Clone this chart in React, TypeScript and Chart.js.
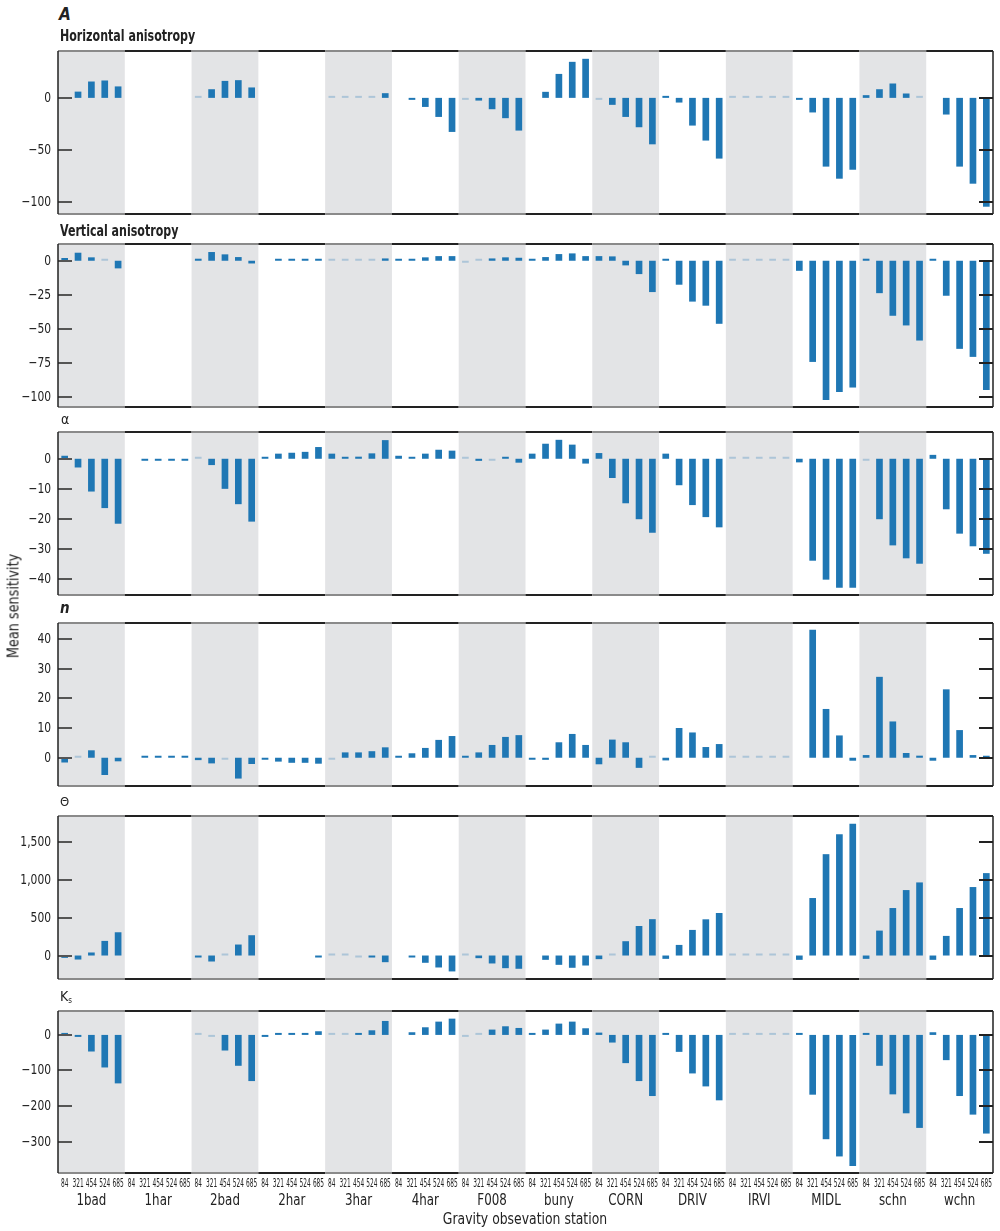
import React, { useEffect, useRef } from "react";
import { Chart, registerables } from "chart.js";
Chart.register(...registerables);

const FONT = "'Liberation Sans Narrow', 'DejaVu Sans Condensed', 'Arial Narrow', 'Liberation Sans', sans-serif";

const stations = ["1bad", "1har", "2bad", "2har", "3har", "4har", "F008", "buny", "CORN", "DRIV", "IRVI", "MIDL", "schn", "wchn"];
const days = ["84", "321", "454", "524", "685"];

// values per station, 5 days each (84, 321, 454, 524, 685); null = no bar
const horizontalAnisotropy = [
  null, 6, 15.7, 16.7, 11, // 1bad
  null, null, null, null, null, // 1har
  0.5, 8.3, 16.3, 17, 10, // 2bad
  null, null, null, null, null, // 2har
  0.4, 0.4, 0.6, 1.2, 4.5, // 3har
  null, -1.6, -8.7, -18.3, -32.7, // 4har
  -0.4, -2.6, -10.9, -19.5, -31.4, // F008
  null, 5.8, 23, 34.6, 37.5, // buny
  -0.4, -6.7, -18.3, -28.2, -44.6, // CORN
  0.6, -4.5, -26.6, -41, -58.3, // DRIV
  0.3, 0.3, 0.3, 0.3, 0.3, // IRVI
  -1.6, -14, -66, -77.6, -69, // MIDL
  2.6, 8.3, 13.8, 4.2, 0.6, // schn
  null, -16, -66, -82.4, -104.5, // wchn
];

const verticalAnisotropy = [
  2, 5.9, 2.5, 0.3, -5.6,
  null, null, null, null, null,
  1.5, 6.4, 4.7, 2.7, -2,
  null, 0.3, 0.3, 0.3, 1,
  0.5, 0.3, 0.3, 0.5, 1.7,
  0.3, 0.3, 2.5, 3.4, 3.4,
  -0.3, 0.3, 1.7, 2.5, 2.2,
  0.5, 2.7, 4.9, 5.4, 3.4,
  3.4, 3.2, -3.4, -9.8, -23,
  1, -17.6, -30, -33, -46.3,
  0.3, 0.3, 0.3, 0.3, 0.3,
  -7.4, -74.3, -102.2, -96.3, -93.1,
  1.5, -23.8, -40.4, -47.5, -58.6,
  1.2, -25.7, -64.7, -70.6, -94.9,
];

const alphaValues = [
  1, -2.9, -10.9, -16.4, -21.6,
  null, -0.2, -0.2, -0.2, -0.2,
  0.2, -2.1, -10, -15.1, -20.9,
  0.6, 1.7, 2, 2.3, 3.9,
  1.7, 0.6, 0.7, 1.8, 6.2,
  1, 0.6, 1.7, 3, 2.7,
  0.2, -0.7, -0.2, 0.6, -1.3,
  1.7, 5, 6.3, 4.7, -1.6,
  1.9, -6.4, -14.8, -20.1, -24.6,
  1.7, -8.8, -15.4, -19.4, -22.8,
  0.2, 0.2, 0.2, 0.2, 0.2,
  -1.2, -33.9, -40.2, -42.9, -42.9,
  -0.3, -20.1, -28.8, -33.1, -34.9,
  1.3, -16.8, -24.9, -29.1, -31.6,
];

const nValues = [
  -1.6, 0.3, 2.5, -5.8, -1.2,
  null, 0.2, 0.2, 0.2, 0.2,
  -0.8, -1.9, -0.3, -7, -2.1,
  -0.2, -1.3, -1.7, -1.7, -2,
  -0.2, 1.8, 1.8, 2.2, 3.5,
  0.2, 1.5, 3.3, 6, 7.3,
  0.6, 1.8, 4.3, 7, 7.6,
  -0.2, -0.7, 5.2, 8, 4.3,
  -2.2, 6.1, 5.2, -3.4, 0.2,
  -0.9, 10, 8.5, 3.6, 4.6,
  0.1, 0.1, 0.1, 0.1, 0.1,
  null, 43, 16.4, 7.5, -1,
  0.9, 27.2, 12.2, 1.6, 0.7,
  -1, 23, 9.3, 0.9, 0.6,
];

const thetaValues = [
  -31, -53, 40, 193, 307,
  null, null, null, null, null,
  -26, -79, 9, 145, 268,
  null, null, null, null, -5,
  2, 2, -5, -26, -88,
  null, -26, -96, -158, -210,
  2, -35, -105, -167, -175,
  null, -57, -123, -162, -132,
  -48, 18, 189, 390, 480,
  -44, 140, 338, 478, 561,
  2, 2, 2, 2, 2,
  -57, 759, 1338, 1601, 1741,
  -44, 329, 627, 864, 965,
  -57, 259, 627, 904, 1088,
];

const ksValues = [
  4.7, -5.6, -46.7, -91.6, -136.4,
  null, null, null, null, null,
  2.8, -1.9, -43.9, -86.9, -129.9,
  -0.5, 0.5, 1, 4.7, 10.3,
  0.5, 0.5, 5.6, 13, 39.3,
  null, 7.5, 21.5, 37.4, 45.8,
  -1, 3.7, 15, 24.3, 19.6,
  1, 15, 31.8, 37.4, 18.7,
  6.5, -21.5, -79.4, -129.9, -172,
  4.7, -47.7, -108.4, -144.9, -184.1,
  0.5, 0.5, 0.5, 0.5, 0.5,
  1.9, -168.2, -293.5, -342, -369.2,
  4.7, -86.9, -167.3, -220.6, -261.7,
  7.5, -71, -172, -224.3, -277.6,
];

const hTicks = [0, -50, -100];
const vTicks = [0, -25, -50, -75, -100];
const alphaTicks = [0, -10, -20, -30, -40];
const nTicks = [0, 10, 20, 30, 40];
const thetaTicks = [0, 500, 1000, 1500];
const ksTicks = [0, -100, -200, -300];

const categories = stations.flatMap(() => days);

type PanelDef = {
  values: (number | null)[];
  ticks: number[];
  min: number;
  max: number;
  top: number;
  bottom: number;
  showX: boolean;
};

const panels: PanelDef[] = [
  { values: horizontalAnisotropy, ticks: hTicks, min: -111.5, max: 45, top: 51, bottom: 214, showX: false },
  { values: verticalAnisotropy, ticks: vTicks, min: -107.4, max: 12.3, top: 244, bottom: 407, showX: false },
  { values: alphaValues, ticks: alphaTicks, min: -45.3, max: 8.9, top: 432, bottom: 595, showX: false },
  { values: nValues, ticks: nTicks, min: -9.5, max: 45.3, top: 623, bottom: 786, showX: false },
  { values: thetaValues, ticks: thetaTicks, min: -310, max: 1842, top: 816, bottom: 979, showX: false },
  { values: ksValues, ticks: ksTicks, min: -388.6, max: 67.3, top: 1011, bottom: 1173, showX: true },
];

const PAD_T = 12;
const PAD_B = 12;
const X_H = 38;

function canvasBox(p: PanelDef) {
  const top = p.top - PAD_T;
  const height = p.bottom - p.top + PAD_T + (p.showX ? X_H + 4 : PAD_B);
  return { top, height };
}

const SHADE = "#e3e4e6";
const BAR = "#1f77b4";
const BAR_PALE = "rgba(31,119,180,0.28)";
const TEXT = "#222";

function fmt(v: number) {
  const s = Math.abs(v).toLocaleString("en-US");
  return v < 0 ? "\u2212" + s : s;
}

function drawText(ctx: CanvasRenderingContext2D, text: string, x: number, y: number, align: CanvasTextAlign, sx: number, font: string) {
  ctx.save();
  ctx.translate(x, y);
  ctx.scale(sx, 1);
  ctx.font = font;
  ctx.fillStyle = TEXT;
  ctx.textAlign = align;
  ctx.textBaseline = "middle";
  ctx.fillText(text, 0, 0);
  ctx.restore();
}

const decoPlugin = {
  id: "deco",
  beforeDatasetsDraw(chart: any) {
    const { ctx, chartArea: a } = chart;
    const gw = (a.right - a.left) / stations.length;
    ctx.save();
    ctx.fillStyle = SHADE;
    for (let g = 0; g < stations.length; g += 2) {
      ctx.fillRect(a.left + g * gw, a.top, gw, a.bottom - a.top);
    }
    ctx.restore();
  },
  afterDatasetsDraw(chart: any, _args: any, opts: any) {
    const { ctx, chartArea: a } = chart;
    const gw = (a.right - a.left) / stations.length;
    const y = chart.scales.y;
    ctx.save();
    // tick marks, inward on both sides, with labels on the left
    ctx.lineWidth = 2;
    for (const t of y.ticks) {
      const py = Math.round(y.getPixelForValue(t.value));
      ctx.strokeStyle = "#555";
      ctx.beginPath();
      ctx.moveTo(a.left, py);
      ctx.lineTo(a.left + 14, py);
      ctx.stroke();
      ctx.strokeStyle = "#222";
      ctx.beginPath();
      ctx.moveTo(a.right - 14, py);
      ctx.lineTo(a.right, py);
      ctx.stroke();
      drawText(ctx, fmt(t.value), a.left - 7, py + 0.5, "right", 0.85, `14px ${FONT}`);
    }
    // frame
    ctx.lineWidth = 2;
    for (let g = 0; g < stations.length; g++) {
      ctx.strokeStyle = g % 2 === 0 ? "#8a8a8a" : "#222";
      const x0 = a.left + g * gw;
      ctx.beginPath();
      ctx.moveTo(x0, a.top);
      ctx.lineTo(x0 + gw, a.top);
      ctx.moveTo(x0, a.bottom);
      ctx.lineTo(x0 + gw, a.bottom);
      ctx.stroke();
    }
    ctx.strokeStyle = "#222";
    ctx.lineWidth = 1.5;
    ctx.beginPath();
    ctx.moveTo(a.left, a.top);
    ctx.lineTo(a.left, a.bottom);
    ctx.moveTo(a.right, a.top);
    ctx.lineTo(a.right, a.bottom);
    ctx.stroke();
    ctx.restore();

    if (opts && opts.showX) {
      const xs = chart.scales.x;
      categories.forEach((lab, i) => {
        drawText(ctx, lab, xs.getPixelForValue(i), a.bottom + 10.5, "center", 0.5, `13px ${FONT}`);
      });
      stations.forEach((st, g) => {
        const cx = a.left + (g + 0.5) * gw;
        drawText(ctx, st, cx, a.bottom + 28, "center", 0.88, `15px ${FONT}`);
      });
    }
  },
};

function makeConfig(p: PanelDef): any {
  const scales: any = {
    x: {
      type: "category",
      labels: categories,
      offset: true,
      display: p.showX,
      grid: { display: false, drawTicks: false },
      border: { display: false },
      ticks: { display: false },
      afterFit: (s: any) => {
        s.height = p.showX ? X_H : 0;
      },
    },
    y: {
      type: "linear",
      min: p.min,
      max: p.max,
      grid: { display: false, drawTicks: false },
      border: { display: false },
      ticks: { display: false },
      afterBuildTicks: (s: any) => {
        s.ticks = p.ticks.map((v) => ({ value: v }));
      },
      afterFit: (s: any) => {
        s.width = 58;
      },
    },
  };
  return {
    type: "bar",
    data: {
      labels: categories,
      datasets: [
        {
          data: p.values,
          barPercentage: 0.5,
          categoryPercentage: 1,
          minBarLength: 2,
          borderWidth: 0,
          backgroundColor: (ctx: any) => {
            const v = ctx.raw;
            const ys = ctx.chart.scales && ctx.chart.scales.y;
            if (v == null || !ys) return BAR;
            const h = Math.abs(ys.getPixelForValue(v) - ys.getPixelForValue(0));
            const group = Math.floor(ctx.dataIndex / days.length);
            if (h < 1.5 && group % 2 === 0) return BAR_PALE;
            return BAR;
          },
        },
      ],
    },
    options: {
      animation: false,
      responsive: false,
      maintainAspectRatio: false,
      devicePixelRatio: 1,
      layout: { padding: { left: 0, right: 7, top: PAD_T, bottom: p.showX ? 4 : PAD_B } },
      plugins: {
        legend: { display: false },
        tooltip: { enabled: false },
        title: { display: false },
        deco: { showX: p.showX },
      },
      scales,
    },
    plugins: [decoPlugin],
  };
}

const titleBase: React.CSSProperties = {
  position: "absolute",
  fontFamily: FONT,
  color: "#222",
  whiteSpace: "nowrap",
  transformOrigin: "left center",
};

export default function App() {
  const refs = useRef<(HTMLCanvasElement | null)[]>([]);

  useEffect(() => {
    const charts = panels.map((p, i) => new Chart(refs.current[i] as HTMLCanvasElement, makeConfig(p)));
    return () => charts.forEach((c) => c.destroy());
  }, []);

  return (
    <div style={{ position: "absolute", left: 0, top: 0, width: 1000, height: 1231, background: "#fff", overflow: "hidden" }}>
      {panels.map((p, i) => {
        const b = canvasBox(p);
        return (
          <canvas
            key={i}
            ref={(el) => {
              refs.current[i] = el;
            }}
            width={1000}
            height={b.height}
            style={{ position: "absolute", left: 0, top: b.top, width: 1000, height: b.height }}
          />
        );
      })}
      <div style={{ ...titleBase, left: 59, top: 6, fontSize: 17, lineHeight: "17px", fontWeight: "bold", fontStyle: "italic" }}>A</div>
      <div style={{ ...titleBase, left: 60, top: 29, fontSize: 15, lineHeight: "15px", fontWeight: "bold", transform: "scaleX(0.82)" }}>
        Horizontal anisotropy
      </div>
      <div style={{ ...titleBase, left: 60, top: 223.5, fontSize: 15, lineHeight: "15px", fontWeight: "bold", transform: "scaleX(0.82)" }}>
        Vertical anisotropy
      </div>
      <div style={{ ...titleBase, left: 61, top: 412, fontSize: 14, lineHeight: "14px" }}>α</div>
      <div style={{ ...titleBase, left: 60, top: 601, fontSize: 15, lineHeight: "15px", fontStyle: "italic", fontWeight: "bold" }}>n</div>
      <div style={{ ...titleBase, left: 60, top: 795, fontSize: 13, lineHeight: "13px" }}>Θ</div>
      <div style={{ ...titleBase, left: 60, top: 989, fontSize: 14, lineHeight: "14px" }}>
        K<sub style={{ fontSize: 8, verticalAlign: "-2px" }}>s</sub>
      </div>
      <div
        style={{
          position: "absolute",
          fontFamily: FONT,
          color: "#222",
          whiteSpace: "nowrap",
          left: 14,
          top: 606,
          fontSize: 15,
          lineHeight: "15px",
          transform: "translate(-50%, -50%) rotate(-90deg) scaleX(0.95)",
        }}
      >
        Mean sensitivity
      </div>
      <div
        style={{
          position: "absolute",
          fontFamily: FONT,
          color: "#222",
          whiteSpace: "nowrap",
          left: 525,
          top: 1212,
          fontSize: 15,
          lineHeight: "15px",
          transform: "translateX(-50%) scaleX(0.92)",
        }}
      >
        Gravity obsevation station
      </div>
    </div>
  );
}
